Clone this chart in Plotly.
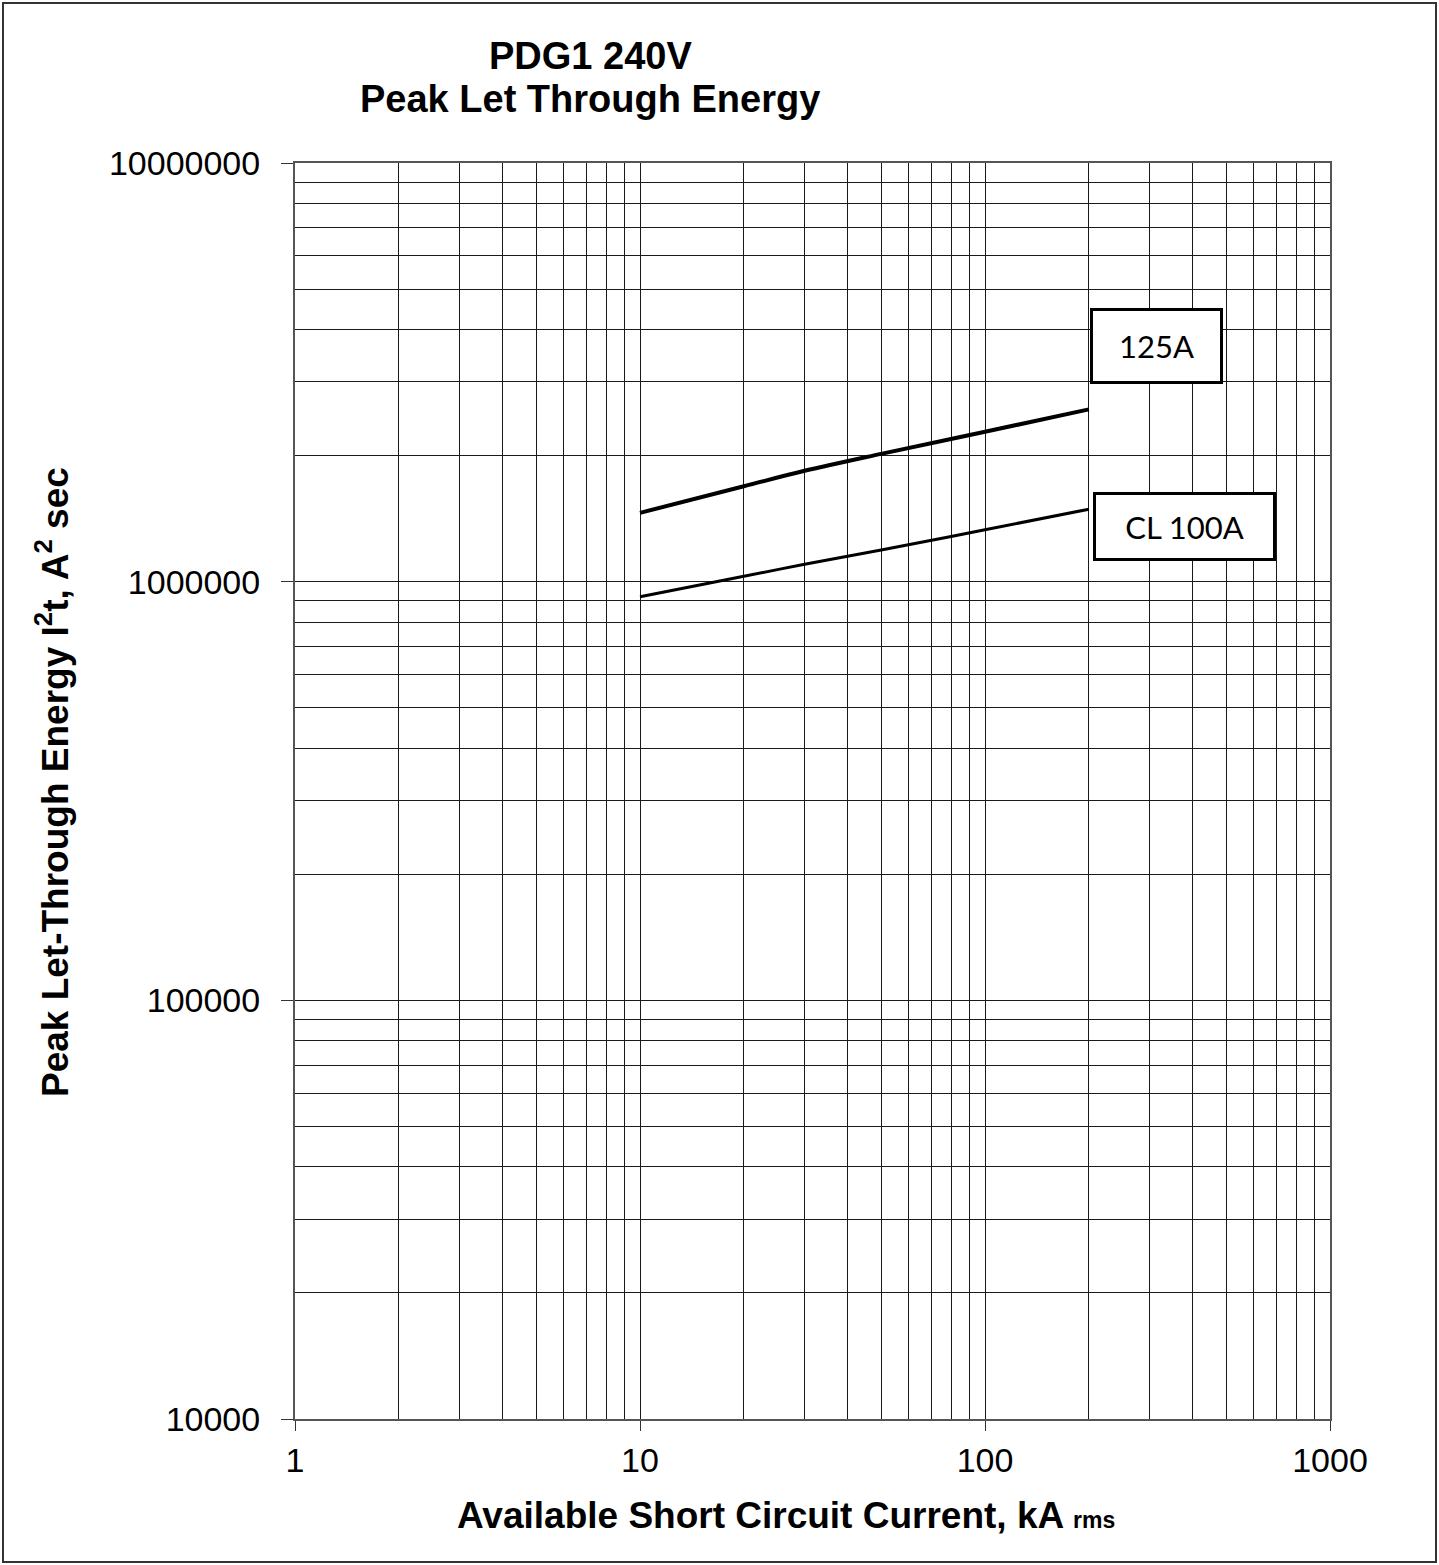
import math
import plotly.graph_objects as go

# ---- data ----
current_ka = [10, 20, 30, 50, 100, 200]
i2t_125a = [1.46e6, 1.69e6, 1.84e6, 2.02e6, 2.28e6, 2.58e6]
i2t_cl100a = [0.92e6, 1.03e6, 1.10e6, 1.19e6, 1.33e6, 1.49e6]
x_major = [1, 10, 100, 1000]
y_major = [1e4, 1e5, 1e6, 1e7]
y_tick_text = ["10000", "100000", "1000000", "10000000"]
x_tick_text = ["1", "10", "100", "1000"]
labels = ["125A", "CL 100A"]
label_pos_x = [314, 379]          # kA, label box centre
label_pos_y = [3.66e6, 1.355e6]   # A^2 s, label box centre
title_lines = ["PDG1 240V", "Peak Let Through Energy"]

W, H = 1439, 1565
L, R, T, B = 295, 1330, 163, 1419

def px(xp):
    return (xp - L) / (R - L)

def py(yp):
    return (B - yp) / (B - T)

x_minor = [m * d for d in [1, 10, 100] for m in range(2, 10)]
y_minor = [m * d for d in [1e4, 1e5, 1e6] for m in range(2, 10)]

font = "Liberation Sans, Arial, sans-serif"
grid = "#1a1a1a"

fig = go.Figure()
fig.add_trace(go.Scatter(x=current_ka, y=i2t_125a, mode="lines",
                         line=dict(color="black", width=4, shape="spline"),
                         showlegend=False, hoverinfo="skip"))
fig.add_trace(go.Scatter(x=current_ka, y=i2t_cl100a, mode="lines",
                         line=dict(color="black", width=3, shape="spline"),
                         showlegend=False, hoverinfo="skip"))

fig.update_xaxes(type="log", range=[0, 3], tickvals=x_major, ticktext=x_tick_text,
                 showgrid=True, gridcolor=grid, gridwidth=1,
                 showline=True, linecolor="#555", linewidth=2, mirror=True,
                 ticks="outside", ticklen=10, tickcolor="#333", tickwidth=1,
                 tickfont=dict(family=font, size=34, color="black"),
                 minor=dict(tickvals=x_minor, showgrid=True, gridcolor=grid, gridwidth=1, ticks=""),
                 zeroline=False)
fig.update_yaxes(type="log", range=[4, 7], tickvals=y_major, ticktext=y_tick_text,
                 showgrid=True, gridcolor=grid, gridwidth=1,
                 showline=True, linecolor="#555", linewidth=2, mirror=True,
                 ticks="outside", ticklen=12, tickcolor="#333", tickwidth=1,
                 ticklabelstandoff=14,
                 tickfont=dict(family=font, size=34, color="black"),
                 minor=dict(tickvals=y_minor, showgrid=True, gridcolor=grid, gridwidth=1, ticks=""),
                 zeroline=False)

annotations = []
# title (two lines)
for line, yc in zip(title_lines, [56, 99]):
    annotations.append(dict(xref="paper", yref="paper", x=px(590), y=py(yc),
                            text="<b>%s</b>" % line,
                            showarrow=False, xanchor="center", yanchor="middle",
                            font=dict(family=font, size=38, color="black")))
# x title
annotations.append(dict(xref="paper", yref="paper", x=px(786), y=py(1516),
                        text="<b>Available Short Circuit Current, kA </b><span style='font-size:23px'><b>rms</b></span>",
                        showarrow=False, xanchor="center", yanchor="middle",
                        font=dict(family=font, size=37, color="black")))
# y title
annotations.append(dict(xref="paper", yref="paper", x=px(52), y=py(782),
                        text="<b>Peak Let-Through Energy I<sup>2</sup>t, A<sup>2</sup> sec</b>",
                        showarrow=False, xanchor="center", yanchor="middle", textangle=-90,
                        font=dict(family=font, size=37, color="black")))
# curve labels
box_w = [127, 177]
box_h = [70, 63]
for lbl, lx, ly, bw, bh in zip(labels, label_pos_x, label_pos_y, box_w, box_h):
    annotations.append(dict(x=math.log10(lx), y=math.log10(ly),
                            xref="x", yref="y", text=lbl, showarrow=False,
                            xanchor="center", yanchor="middle",
                            width=bw, height=bh, align="center",
                            bgcolor="white", bordercolor="black", borderwidth=3, borderpad=0,
                            font=dict(family="Lato, Carlito, sans-serif", size=31, color="black")))

fig.update_layout(
    width=W, height=H,
    margin=dict(l=L, r=W - R, t=T, b=H - B),
    paper_bgcolor="white", plot_bgcolor="white",
    annotations=annotations,
    shapes=[dict(type="rect", xref="paper", yref="paper",
                 x0=px(3), x1=px(1436), y0=py(1562), y1=py(3),
                 line=dict(color="#333", width=2), fillcolor="rgba(0,0,0,0)", layer="below")],
)

fig.write_html("out.html", config={"displayModeBar": False},
               post_script="document.body.style.margin='0';document.body.style.overflow='hidden';")
